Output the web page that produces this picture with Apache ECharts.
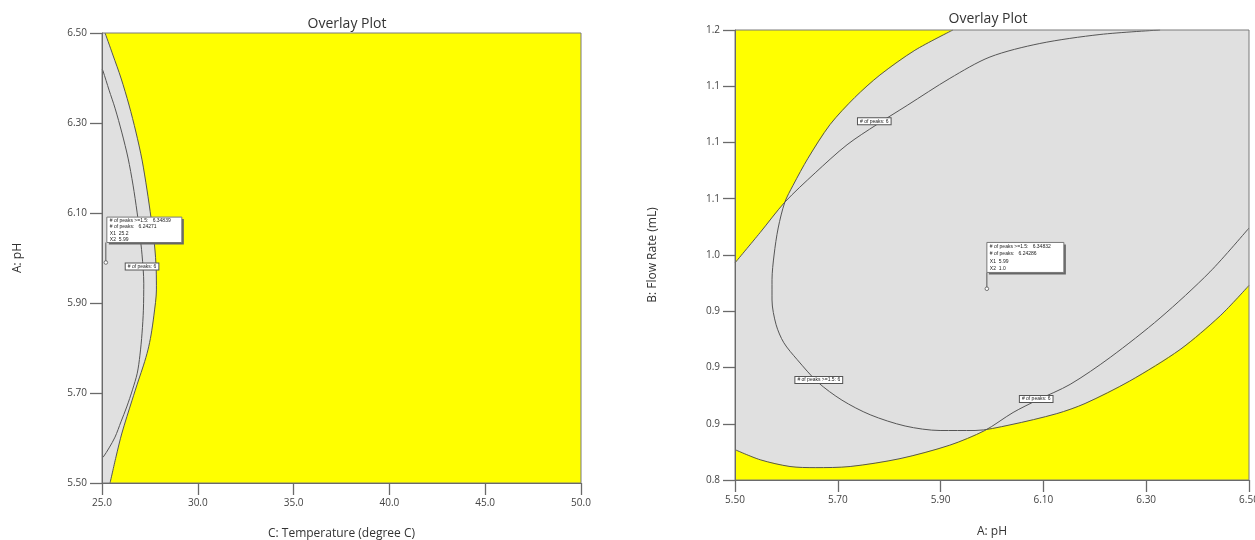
<!DOCTYPE html>
<html>
<head>
<meta charset="utf-8">
<title>Overlay Plot</title>
<script src="https://cdn.jsdelivr.net/npm/echarts@6/dist/echarts.min.js"></script>
<style>
  html, body { margin: 0; padding: 0; background: #fff; }
  #chart { width: 1255px; height: 540px; }
</style>
</head>
<body>
<div id="chart"></div>
<script>
// ---------- Plot 1: C (temperature) vs A (pH) ----------
const tempTicks = [25, 30, 35, 40, 45, 50];
const phTicks = [5.5, 5.7, 5.9, 6.1, 6.3, 6.5];

// edge of the shaded (criteria not met) region
const tempPhOuter = [
  [25.16, 6.5], [25.57, 6.451], [25.99, 6.40], [26.41, 6.34], [26.77, 6.28],
  [27.09, 6.218], [27.35, 6.151], [27.56, 6.089], [27.74, 6.029], [27.83, 5.973],
  [27.84, 5.929], [27.71, 5.873], [27.56, 5.829], [27.40, 5.796], [27.17, 5.762],
  [26.91, 5.729], [26.57, 5.684], [26.04, 5.611], [25.73, 5.558], [25.42, 5.5]
];
// "# of peaks: 6" contour
const tempPhInner = [
  [25.0, 6.42], [25.05, 6.416], [25.37, 6.373], [25.68, 6.333], [26.04, 6.278],
  [26.36, 6.222], [26.62, 6.162], [26.83, 6.102], [26.96, 6.058], [27.09, 6.007],
  [27.18, 5.944], [27.16, 5.884], [27.09, 5.833], [26.98, 5.784], [26.84, 5.744],
  [26.59, 5.707], [26.29, 5.669], [25.99, 5.636], [25.68, 5.602], [25.37, 5.578],
  [25.07, 5.558], [25.0, 5.556]
];
const tempPhTags = [[27.09, 5.981, '# of peaks: 6']];
const tempPhFlag = [25.2, 5.99];
const tempPhFlagResp = [6.34839, 6.24271];

// ---------- Plot 2: A (pH) vs B (flow rate) ----------
const flowTicks = [0.8, 0.85, 0.9, 0.95, 1.0, 1.05, 1.1, 1.15, 1.2];
const flowTickLabels = ['0.8', '0.9', '0.9', '0.9', '1.0', '1.1', '1.1', '1.1', '1.2'];

// "# of peaks >=1.5: 6" contour
const phFlowOval = [
  [5.924, 1.2], [5.850, 1.182], [5.782, 1.160], [5.733, 1.140], [5.685, 1.116],
  [5.642, 1.086], [5.613, 1.062], [5.597, 1.047], [5.584, 1.024], [5.576, 1.000],
  [5.572, 0.978], [5.572, 0.960], [5.580, 0.938], [5.595, 0.922], [5.621, 0.907],
  [5.661, 0.887], [5.708, 0.871], [5.763, 0.858], [5.831, 0.848], [5.899, 0.844],
  [5.967, 0.844], [6.035, 0.849], [6.126, 0.859], [6.181, 0.868], [6.268, 0.888],
  [6.366, 0.916], [6.444, 0.946], [6.5, 0.973]
];
// "# of peaks: 6" contour, upper and lower branches
const phFlowUpper = [
  [5.5, 0.993], [5.549, 1.020], [5.597, 1.047], [5.656, 1.073], [5.718, 1.098],
  [5.776, 1.116], [5.835, 1.133], [5.918, 1.157], [5.996, 1.176], [6.093, 1.188],
  [6.210, 1.196], [6.327, 1.2]
];
const phFlowLower = [
  [5.5, 0.827], [5.549, 0.818], [5.607, 0.812], [5.656, 0.811], [5.724, 0.812],
  [5.821, 0.819], [5.918, 0.831], [5.986, 0.844], [6.041, 0.860], [6.088, 0.871],
  [6.152, 0.885], [6.230, 0.909], [6.327, 0.944], [6.424, 0.985], [6.5, 1.024]
];
const phFlowTags = [
  [5.771, 1.119, '# of peaks: 6'],
  [5.663, 0.889, '# of peaks >=1.5: 6'],
  [6.086, 0.872, '# of peaks: 6']
];
const phFlowFlag = [5.99, 0.97];
const phFlowFlagResp = [6.34832, 6.24286];

// ---------- styling helpers ----------
const YELLOW = '#ffff00';
const GRAY = '#e0e0e0';
const LINE = '#555555';
const AXIS = '#6a6a6a';
const FONT = '"Open Sans", "Noto Sans", sans-serif';

const first = a => a[0];
const last = a => a[a.length - 1];

function fillSeries(xi, yi, polys, color, z) {
  return {
    type: 'custom', xAxisIndex: xi, yAxisIndex: yi, z: z, silent: true,
    clip: false, data: [[0, 0]],
    renderItem: (params, api) => ({
      type: 'group',
      children: polys.map(poly => ({
        type: 'polygon',
        shape: { points: poly.map(pt => api.coord(pt)) },
        style: { fill: color, stroke: null }
      }))
    })
  };
}

function frameSeries(xi, yi, rect) {
  return {
    type: 'custom', xAxisIndex: xi, yAxisIndex: yi, z: 5, silent: true,
    clip: false, data: [[0, 0]],
    renderItem: (params, api) => ({
      type: 'polygon',
      shape: { points: rect.map(pt => api.coord(pt)) },
      style: { fill: null, stroke: '#7a7a7a', lineWidth: 1 }
    })
  };
}

function contour(xi, yi, pts) {
  return {
    type: 'line', xAxisIndex: xi, yAxisIndex: yi, z: 4, silent: true,
    data: pts, showSymbol: false, symbol: 'none', smooth: 0.3,
    lineStyle: { color: LINE, width: 1 }
  };
}

function tagSeries(xi, yi, tags) {
  return {
    type: 'custom', xAxisIndex: xi, yAxisIndex: yi, z: 6, silent: true,
    clip: false, data: tags.map(t => [t[0], t[1]]),
    renderItem: (params, api) => {
      const c = api.coord([api.value(0), api.value(1)]);
      return {
        type: 'text', x: c[0], y: c[1],
        style: {
          text: tags[params.dataIndex][2], align: 'center', verticalAlign: 'middle',
          fontSize: 5, fontFamily: 'Liberation Sans, Arial, sans-serif', fill: '#222',
          backgroundColor: '#fff', borderColor: '#555', borderWidth: 1, padding: [1, 2, 0, 2]
        }
      };
    }
  };
}

function flagSeries(xi, yi, pt, resp, fx, fy, box) {
  return {
    type: 'custom', xAxisIndex: xi, yAxisIndex: yi, z: 7, silent: true,
    clip: false, data: [pt],
    renderItem: (params, api) => {
      const c = api.coord([api.value(0), api.value(1)]);
      const bx = c[0] + box.dx, by = c[1] + box.dy;
      const lines = [
        '# of peaks >=1.5:   ' + resp[0].toFixed(5),
        '# of peaks:   ' + resp[1].toFixed(5),
        'X1  ' + fx(pt[0]),
        'X2  ' + fy(pt[1])
      ];
      const kids = [
        { type: 'line', shape: { x1: c[0], y1: c[1], x2: c[0], y2: by + box.h },
          style: { stroke: LINE, lineWidth: 1 } },
        { type: 'circle', shape: { cx: c[0], cy: c[1], r: 1.8 },
          style: { fill: '#fff', stroke: LINE, lineWidth: 0.8 } },
        { type: 'rect', shape: { x: bx + 2, y: by + 2, width: box.w, height: box.h },
          style: { fill: '#666' } },
        { type: 'rect', shape: { x: bx, y: by, width: box.w, height: box.h },
          style: { fill: '#fff', stroke: '#777', lineWidth: 1 } }
      ];
      lines.forEach((s, i) => {
        kids.push({
          type: 'text', x: bx + 3, y: by + box.h * (i + 0.55) / 4,
          style: { text: s, align: 'left', verticalAlign: 'middle', fontSize: 5,
                   fontFamily: 'Liberation Sans, Arial, sans-serif', fill: '#222' }
        });
      });
      return { type: 'group', children: kids };
    }
  };
}

function valueAxis(gi, min, max, ticks, fmt, name, gap, extra) {
  return Object.assign({
    type: 'value', gridIndex: gi, min: min, max: max, z: 10,
    name: name, nameLocation: 'middle', nameGap: gap,
    nameTextStyle: { fontSize: 12, color: '#333', fontFamily: FONT },
    axisLine: { show: true, onZero: false, lineStyle: { color: AXIS, width: 1 } },
    axisTick: { show: true, customValues: ticks, length: 12, lineStyle: { color: AXIS, width: 1.3 } },
    axisLabel: { customValues: ticks, formatter: fmt, fontSize: 10, color: '#444',
                 fontFamily: FONT, margin: 15 },
    splitLine: { show: false }
  }, extra || {});
}

const fmtTemp = v => v.toFixed(1);
const fmtPh = v => v.toFixed(2);
const fmtFlow = v => v.toFixed(1);
const flowLabel = v => {
  let best = 0;
  flowTicks.forEach((t, i) => { if (Math.abs(t - v) < Math.abs(flowTicks[best] - v)) best = i; });
  return flowTickLabels[best];
};

// plot corners
const t0 = first(tempTicks), t1 = last(tempTicks);
const p0 = first(phTicks), p1 = last(phTicks);
const f0 = first(flowTicks), f1 = last(flowTicks);
const rectL = [[t0, p0], [t1, p0], [t1, p1], [t0, p1]];
const rectR = [[p0, f0], [p1, f0], [p1, f1], [p0, f1]];

// shaded regions
const grayLeft = [[t0, p1]].concat(tempPhOuter, [[t0, p0]]);
const grayBand = phFlowUpper.concat([[p1, f1]], phFlowLower.slice().reverse());
const grayOval = phFlowOval.concat([[p1, f1]]);

const chart = echarts.init(document.getElementById('chart'), null, { renderer: 'canvas' });
chart.setOption({
  animation: false,
  backgroundColor: '#fff',
  title: [
    { text: 'Overlay Plot', left: 342, top: 12, textAlign: 'center',
      textStyle: { fontSize: 14, fontWeight: 'normal', color: '#333', fontFamily: FONT } },
    { text: 'Overlay Plot', left: 983, top: 7, textAlign: 'center',
      textStyle: { fontSize: 14, fontWeight: 'normal', color: '#333', fontFamily: FONT } }
  ],
  grid: [
    { left: 102, top: 33, width: 479, height: 450, containLabel: false, outerBoundsMode: 'none' },
    { left: 735, top: 30, width: 514, height: 450, containLabel: false, outerBoundsMode: 'none' }
  ],
  xAxis: [
    valueAxis(0, t0, t1, tempTicks, fmtTemp, 'C: Temperature (degree C)', 45),
    valueAxis(1, p0, p1, phTicks, fmtPh, 'A: pH', 46)
  ],
  yAxis: [
    valueAxis(0, p0, p1, phTicks, fmtPh, 'A: pH', 78),
    valueAxis(1, f0, f1, flowTicks, flowLabel, 'B: Flow Rate (mL)', 76)
  ],
  series: [
    fillSeries(0, 0, [rectL], YELLOW, 1),
    fillSeries(0, 0, [grayLeft], GRAY, 2),
    contour(0, 0, tempPhOuter),
    contour(0, 0, tempPhInner),
    frameSeries(0, 0, rectL),
    tagSeries(0, 0, tempPhTags),
    flagSeries(0, 0, tempPhFlag, tempPhFlagResp, fmtTemp, fmtPh,
               { dx: 1, dy: -45.4, w: 75, h: 25.4 }),

    fillSeries(1, 1, [rectR], YELLOW, 1),
    fillSeries(1, 1, [grayBand, grayOval], GRAY, 2),
    contour(1, 1, phFlowOval),
    contour(1, 1, phFlowUpper),
    contour(1, 1, phFlowLower),
    frameSeries(1, 1, rectR),
    tagSeries(1, 1, phFlowTags),
    flagSeries(1, 1, phFlowFlag, phFlowFlagResp, fmtPh, fmtFlow,
               { dx: 0, dy: -46.3, w: 77, h: 30 })
  ]
});
</script>
</body>
</html>
